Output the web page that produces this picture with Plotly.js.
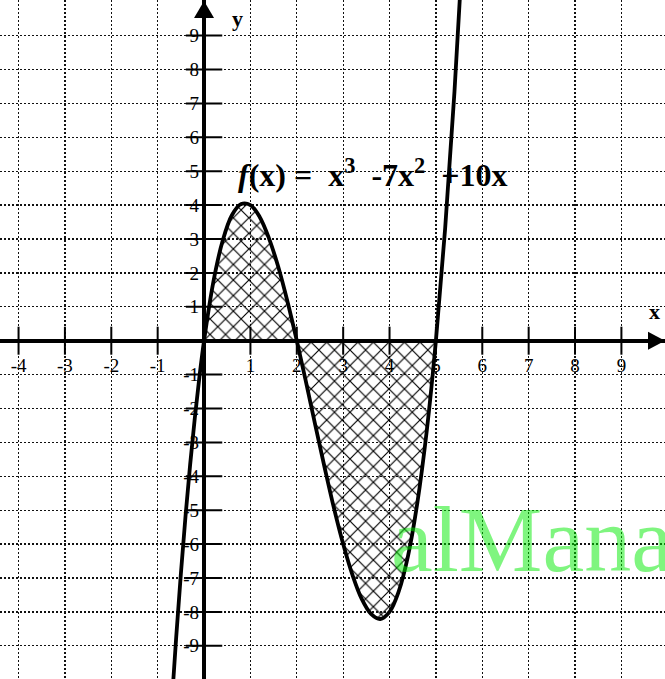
<!DOCTYPE html>
<html>
<head>
<meta charset="utf-8">
<script src="https://cdn.plot.ly/plotly-3.0.1.min.js"></script>
<style>html,body{margin:0;padding:0;background:#fff;}#chart{width:665px;height:679px;}</style>
</head>
<body>
<div id="chart"></div>
<script>
// Curve points: f(x) = x^3 - 7x^2 + 10x
const curveX = [-0.7,-0.6,-0.5,-0.4,-0.3,-0.2,-0.1,0,0.2,0.4,0.6,0.8,1.0,1.2,1.4,1.6,1.8,2.0,2.2,2.4,2.6,2.8,3.0,3.2,3.4,3.6,3.8,4.0,4.2,4.4,4.6,4.8,5.0,5.2,5.4,5.6];
const curveY = [-10.77,-8.74,-6.88,-5.18,-3.66,-2.29,-1.07,0,1.73,2.94,3.70,4.03,4.00,3.65,3.02,2.18,1.15,0,-1.23,-2.50,-3.74,-4.93,-6.00,-6.91,-7.62,-8.06,-8.21,-8.00,-7.39,-6.34,-4.78,-2.69,0,3.33,7.34,12.10];
// Shaded (hatched) region: from x = 0 to x = 5
const shadeX = [0,0.2,0.4,0.6,0.8,1.0,1.2,1.4,1.6,1.8,2.0,2.2,2.4,2.6,2.8,3.0,3.2,3.4,3.6,3.8,4.0,4.2,4.4,4.6,4.8,5.0];
const shadeY = [0,1.73,2.94,3.70,4.03,4.00,3.65,3.02,2.18,1.15,0,-1.23,-2.50,-3.74,-4.93,-6.00,-6.91,-7.62,-8.06,-8.21,-8.00,-7.39,-6.34,-4.78,-2.69,0];
// Tick labels
const xTicks = [-4,-3,-2,-1,1,2,3,4,5,6,7,8,9];
const xTickText = ["-4","-3","-2","-1","1","2","3","4","5","6","7","8","9"];
const yTicks = [9,8,7,6,5,4,3,2,1,-1,-2,-3,-4,-5,-6,-7,-8,-9];
const yTickText = ["9","8","7","6","5","4","3","2","1","-1","-2","-3","-4","-5","-6","-7","-8","-9"];
const formulaText = "<b><i>f</i>(x) =&nbsp; x<sup>3</sup>&nbsp; -7x<sup>2</sup>&nbsp; +10x</b>";
const watermark = "alMana";

const xRange = [-4.40, 9.94];
const yRange = [-9.98, 10.05];
const xAxisPos = (0 - yRange[0]) / (yRange[1] - yRange[0]);
const yAxisPos = (0 - xRange[0]) / (xRange[1] - xRange[0]);

const traces = [
  {
    x: shadeX, y: shadeY, type: 'scatter', mode: 'lines',
    line: {width: 0, shape: 'spline', smoothing: 1},
    fill: 'tozeroy', fillcolor: 'rgba(0,0,0,0)',
    fillpattern: {shape: 'x', size: 11, solidity: 0.2, fgcolor: '#000', bgcolor: 'rgba(0,0,0,0)', fgopacity: 1},
    hoverinfo: 'skip', showlegend: false
  },
  {
    x: curveX, y: curveY, type: 'scatter', mode: 'lines',
    line: {color: '#000', width: 3.8, shape: 'spline', smoothing: 1},
    hoverinfo: 'skip', showlegend: false
  },
  {
    x: xTicks, y: xTicks.map(() => 0), type: 'scatter', mode: 'markers',
    marker: {symbol: 'line-ns', size: 20, line: {color: '#000', width: 2}},
    hoverinfo: 'skip', showlegend: false
  },
  {
    x: yTicks.map(() => 0), y: yTicks, type: 'scatter', mode: 'markers',
    marker: {symbol: 'line-ew', size: 26, line: {color: '#000', width: 2}},
    hoverinfo: 'skip', showlegend: false
  }
];

const tickFont = {family: 'Liberation Serif, Times New Roman, serif', size: 19, color: '#000'};
const gridDash = '2px,2px';

const layout = {
  width: 665, height: 679,
  margin: {l: 0, r: 0, t: 0, b: 0, pad: 0},
  paper_bgcolor: '#fff', plot_bgcolor: '#fff',
  showlegend: false,
  xaxis: {
    range: xRange, anchor: 'free', position: xAxisPos,
    tickvals: xTicks, ticktext: xTickText, ticks: '',
    tickfont: tickFont, ticklabelstandoff: 11,
    showgrid: true, gridcolor: '#111', griddash: gridDash, gridwidth: 1.3,
    zeroline: true, zerolinecolor: '#000', zerolinewidth: 4,
    showline: false, fixedrange: true
  },
  yaxis: {
    range: yRange, anchor: 'free', position: yAxisPos,
    tickvals: yTicks, ticktext: yTickText, ticks: '',
    tickfont: tickFont, ticklabelstandoff: 5,
    showgrid: true, gridcolor: '#111', griddash: gridDash, gridwidth: 1.3,
    zeroline: true, zerolinecolor: '#000', zerolinewidth: 4,
    showline: false, fixedrange: true
  },
  shapes: [
    {type: 'path', xref: 'x', yref: 'y', xsizemode: 'pixel', ysizemode: 'pixel',
     xanchor: xRange[1], yanchor: 0, path: 'M0,0 L-17,9 L-17,-9 Z',
     fillcolor: '#000', line: {width: 0}},
    {type: 'path', xref: 'x', yref: 'y', xsizemode: 'pixel', ysizemode: 'pixel',
     xanchor: 0, yanchor: yRange[1], path: 'M0,-1 L-10,-18 L10,-18 Z',
     fillcolor: '#000', line: {width: 0}}
  ],
  annotations: [
    {x: 0.72, y: 9.5, xref: 'x', yref: 'y', text: '<b>y</b>', showarrow: false,
     font: {family: 'Liberation Serif, serif', size: 22, color: '#000'}},
    {x: 9.72, y: 0.85, xref: 'x', yref: 'y', text: '<b>x</b>', showarrow: false,
     font: {family: 'Liberation Serif, serif', size: 22, color: '#000'}},
    {x: 0.68, y: 4.95, xref: 'x', yref: 'y', xanchor: 'left', text: formulaText, showarrow: false,
     font: {family: 'Liberation Serif, serif', size: 32, color: '#000'}},
    {x: 3.98, y: -5.85, xref: 'x', yref: 'y', xanchor: 'left', yanchor: 'middle', text: watermark, showarrow: false,
     font: {family: 'Liberation Serif, serif', size: 94, color: 'rgba(0,235,0,0.5)'}}
  ]
};

Plotly.newPlot('chart', traces, layout, {staticPlot: true, displayModeBar: false});
</script>
</body>
</html>
